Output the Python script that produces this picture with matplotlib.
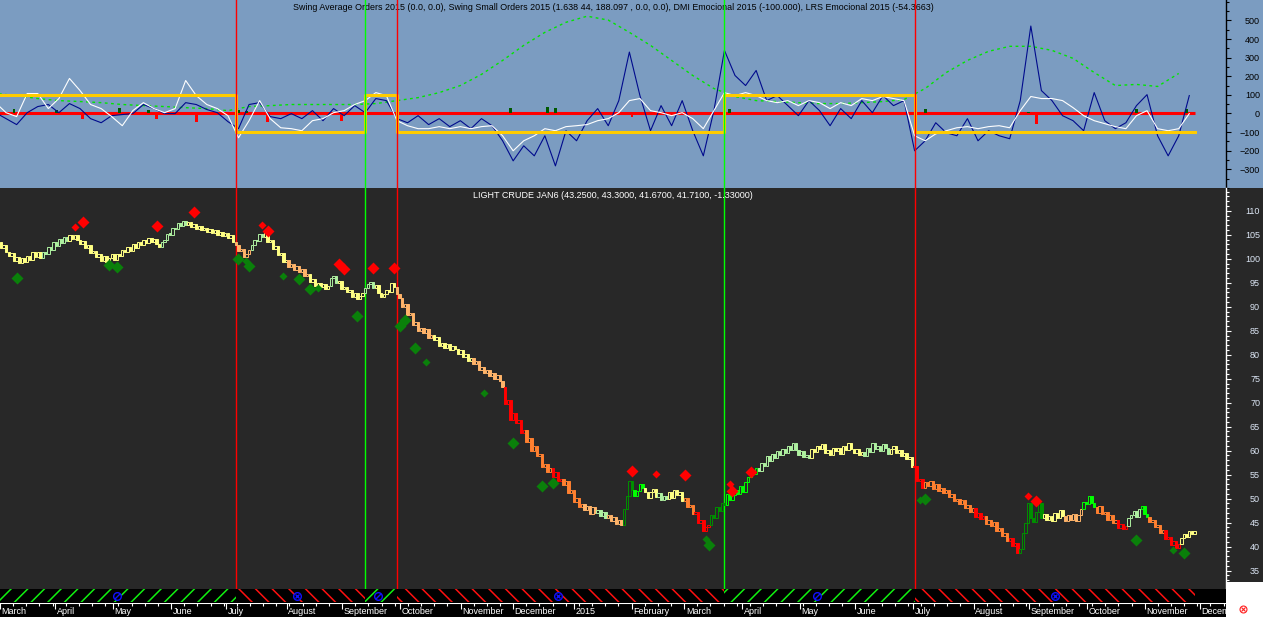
import numpy as np
import pandas as pd
import matplotlib
matplotlib.use("Agg")
import matplotlib.pyplot as plt
from matplotlib.patches import Rectangle
from matplotlib.lines import Line2D

plt.rcParams['font.family'] = ['Liberation Sans', 'DejaVu Sans']
plt.rcParams['hatch.linewidth'] = 1.1

# ---------------- data ----------------
start_date = "2014-03-03"

closes = [
    102.8, 103.4, 102.2, 102.9, 101.5, 100.6, 101.2, 99.6, 100.4, 99.2,
    100.1, 99.3, 100.5, 99.7, 101.3, 100.4, 101.4, 100.2, 101.5, 101.0,
    102.4, 101.8, 103.5, 102.7, 104.1, 103.3, 104.6, 103.8, 104.9, 104.1,
    105.0, 104.0, 103.1, 103.8, 102.2, 102.8, 101.1, 101.7, 100.4, 101.0,
    99.6, 100.5, 99.3, 100.2, 100.9, 99.8, 101.0, 100.6, 101.9, 101.3,
    102.4, 101.6, 103.0, 102.3, 103.5, 102.8, 103.9, 103.2, 104.4, 103.4,
    104.2, 103.0, 102.4, 103.5, 103.9, 105.2, 105.0, 106.5, 106.1, 107.4,
    106.8, 107.9, 107.0, 107.7, 106.6, 107.2, 106.3, 106.8, 105.9, 106.5,
    105.6, 106.2, 105.3, 105.9, 105.0, 105.6, 104.7, 105.3, 104.4, 104.9,
    103.5, 102.9, 101.6, 102.1, 100.4, 100.9, 101.8, 102.9, 103.9, 103.6,
    105.1, 104.6, 105.3, 103.4, 103.9, 102.1, 102.6, 100.8, 101.2, 99.4,
    99.8, 98.2, 98.8, 97.6, 98.5, 97.2, 97.8, 96.3, 96.8, 95.2,
    95.7, 94.3, 94.9, 94.1, 94.7, 93.6, 94.4, 95.9, 96.3, 95.0,
    95.3, 93.6, 94.2, 93.0, 93.5, 92.1, 92.9, 91.7, 92.2, 92.8,
    93.9, 94.8, 95.2, 94.0, 94.5, 92.8, 92.0, 92.6, 93.4, 93.0,
    94.9, 94.2, 92.6, 91.8, 89.9, 90.5, 88.2, 88.7, 86.1, 86.8,
    84.9, 85.6, 84.5, 85.3, 83.4, 84.1, 83.0, 83.6, 81.8, 82.5,
    81.4, 82.3, 80.9, 81.9, 81.1, 80.2, 80.9, 79.6, 80.1, 78.6,
    79.3, 78.0, 78.6, 76.8, 77.4, 76.2, 76.9, 75.5, 76.2, 75.0,
    75.8, 74.6, 73.2, 69.8, 70.6, 66.3, 67.9, 65.7, 66.4, 63.6,
    64.3, 61.8, 62.6, 60.0, 60.9, 58.8, 59.3, 56.5, 57.2, 55.6,
    56.4, 54.6, 55.5, 53.6, 54.2, 52.8, 53.6, 51.2, 51.9, 49.4,
    50.1, 48.2, 48.9, 47.6, 48.5, 46.9, 48.2, 47.0, 47.7, 46.4,
    47.3, 46.0, 46.6, 45.3, 46.1, 44.8, 45.6, 44.6, 47.9, 50.6,
    53.6, 51.9, 50.5, 51.7, 53.1, 52.2, 51.4, 50.2, 51.3, 52.0,
    50.4, 51.1, 49.7, 50.6, 49.9, 51.3, 50.2, 51.8, 50.7, 51.4,
    49.5, 50.1, 48.2, 48.7, 46.8, 47.3, 45.0, 45.6, 43.2, 44.0,
    44.6, 46.5, 45.9, 48.3, 47.4, 49.2, 48.6, 50.9, 49.7, 50.8,
    51.9, 50.9, 52.6, 51.4, 53.4, 54.6, 55.8, 55.1, 56.3, 55.7,
    57.5, 56.9, 58.8, 57.9, 59.3, 58.4, 59.9, 59.1, 60.4, 59.6,
    61.0, 60.2, 61.6, 60.1, 59.0, 60.0, 58.7, 59.2, 58.5, 60.4,
    59.7, 61.0, 60.3, 61.4, 59.6, 60.2, 59.2, 60.6, 59.9, 60.5,
    59.4, 60.9, 60.2, 61.6, 60.4, 59.5, 60.4, 59.1, 59.8, 58.9,
    60.5, 59.8, 61.5, 60.3, 60.9, 59.9, 61.3, 60.6, 59.4, 60.4,
    60.9, 59.6, 60.1, 58.8, 59.5, 58.3, 58.7, 56.5, 56.9, 53.6,
    54.1, 52.2, 53.4, 52.6, 53.6, 52.0, 53.0, 51.6, 52.2, 51.1,
    51.8, 50.4, 51.0, 49.5, 50.0, 48.8, 49.7, 48.0, 48.6, 47.3,
    48.0, 46.2, 47.1, 45.8, 46.4, 44.8, 45.6, 44.4, 45.1, 43.3,
    43.9, 42.2, 42.9, 41.2, 41.8, 40.2, 40.8, 38.7, 39.5, 42.8,
    44.9, 49.1, 46.0, 45.1, 47.3, 49.2, 46.0, 46.8, 45.5, 46.3,
    45.4, 47.0, 46.0, 47.6, 46.3, 45.4, 46.6, 45.5, 46.9, 45.3,
    46.5, 47.8, 49.3, 48.9, 50.6, 49.0, 48.2, 47.1, 48.4, 46.8,
    47.3, 45.6, 46.5, 44.9, 45.6, 43.9, 44.8, 43.6, 44.4, 45.9,
    46.7, 47.4, 46.2, 47.8, 48.4, 46.8, 46.1, 45.1, 45.6, 44.0,
    44.6, 42.9, 43.4, 41.6, 42.1, 40.4, 41.2, 39.8, 40.6, 41.9,
    42.6, 42.1, 43.3, 42.7, 43.2,
]

# candle colour class, run-length (code, number of bars)
color_runs = [
    ("Y", 18), ("P", 10), ("Y", 18), ("Y", 17), ("P", 10), ("Y", 18), ("L", 6), ("P", 5),
    ("Y", 9), ("L", 8), ("Y", 8), ("P", 3), ("Y", 10), ("P", 4), ("Y", 8), ("L", 9),
    ("L", 5), ("Y", 15), ("L", 12), ("R", 8), ("O", 10), ("R", 4), ("O", 8), ("L", 5),
    ("P", 4), ("L", 6), ("D", 4), ("G", 4), ("Y", 5), ("P", 4), ("Y", 6), ("O", 4),
    ("R", 6), ("D", 6), ("G", 6), ("G", 6), ("P", 10), ("P", 10), ("Y", 20), ("P", 10),
    ("Y", 9), ("R", 4), ("O", 9), ("O", 10), ("R", 4), ("O", 9), ("R", 4), ("D", 9),
    ("Y", 8), ("L", 7), ("G", 5), ("O", 8), ("R", 4), ("P", 5), ("G", 3), ("O", 6),
    ("R", 6), ("Y", 6),
]

# sell (red, above) and buy (green, below) diamonds: bar index, price, big(1)/small(0)
sell_idx = [30, 33, 61, 75, 101, 103, 130, 132, 143, 151, 241, 250, 261, 278, 279, 286, 391, 394]
sell_px = [106.6, 107.6, 106.8, 109.8, 107.0, 105.8, 99.0, 97.8, 98.0, 98.0, 55.8, 55.2, 55.0, 53.1, 51.6, 55.6, 50.6, 49.6]
sell_big = [0, 1, 1, 1, 0, 1, 1, 1, 1, 1, 1, 0, 1, 0, 1, 1, 0, 1]
buy_idx = [8, 43, 46, 92, 95, 96, 109, 115, 119, 122, 137, 153, 155, 159, 163, 185, 196, 207, 211,
           269, 270, 350, 352, 432, 446, 450]
buy_px = [96.0, 98.7, 98.2, 99.9, 99.5, 98.4, 96.4, 95.7, 93.6, 93.8, 88.0, 85.9, 87.2, 81.5, 78.4,
          72.0, 61.5, 52.7, 53.3, 41.6, 40.4, 49.8, 50.0, 41.4, 39.3, 38.7]
buy_big = [1, 1, 1, 1, 0, 1, 0, 1, 1, 0, 1, 1, 1, 1, 0, 0, 1, 1, 1, 0, 1, 0, 1, 1, 0, 1]

# swing signal segments (start bar, direction)
seg_start = [0, 91, 140, 152, 276, 348]
seg_dir = [1, -1, 1, -1, 1, -1]
last_bar = 454

# oscillators, sampled every 4 bars
osc_step = 4
blue_vals = [
    4, -28, -60, 4, 37, 48, 4, 53, 26, -28, -50, -12, -6, -1, 48, 26, -1, -1, 58, 48,
    21, 4, -44, -82, 48, 58, -17, -28, -1, -28,
    15, -39, 26, -12, 42, 4, 80, 69, -28, -50, -12, -60, -28, -71, -39, -82, -28, -66, -147, -255,
    -174, -228, -120, -282, -93, -147, -39, 26, -66, 69,
    330, 96, -93, 42, -66, 69, -93, -228, 15, 339, 204, 150, 231, 69, 96, 42, -12, 69, 15, -66,
    26, -28, 69, 4, 96, 42, 69, -201, -147, -50,
    -104, -120, -28, -147, -93, -120, -136, 69, 470, 123, 69, -12, -39, -93, 112, -39, -82, -50, 42, 101,
    -120, -228, -120, 96,
]
white_vals = [
    58, 4, -17, 107, 107, 26, 80, 188, 123, 48, 26, -17, -66, 15, 58, 26, 4, 26, 177, 96,
    48, 26, -12, -131, -39, 69, -28, -77, -82, -93,
    -39, -28, 4, 15, 48, 69, 112, 96, -39, -66, -82, -82, -71, -82, -71, -82, -71, -66, -120, -201,
    -147, -120, -82, -93, -71, -66, -60, -39, -28, 4,
    69, 80, 15, 4, -12, 4, -28, -82, 15, 112, 96, 112, 96, 69, 58, 69, 42, 69, 58, 26,
    58, 42, 80, 69, 91, 80, 69, -120, -147, -110,
    -93, -77, -71, -82, -71, -66, -77, 15, 91, 80, 80, 69, 31, -12, -39, -55, -71, -82, -12, 15,
    -82, -93, -82, -1,
]
# LRS line sampled every 8 bars
lrs_step = 8
lrs_vals = [
    107, 96, 80, 69, 64, 58, 48, 42, 37, 31, 26, 15, 37, 42, 48, 48, 48, 48, 53, 69,
    85, 112, 150, 210, 285, 366, 436, 490, 523, 502, 436, 366, 285, 204, 134, 91, 69, 64, 58, 53,
    53, 58, 64, 75, 134, 220, 285, 334, 361, 361, 339, 296, 220, 150, 156, 145, 215,
]
# small histogram bars on the zero line
hist_idx = [7, 23, 33, 47, 58, 61, 76, 92, 95, 103, 131, 140, 195, 209, 212, 241, 278, 352, 391, 394, 432, 451]
hist_val = [25, 20, -30, 30, 20, -30, -45, 20, 15, -45, -40, 40, 30, 35, 30, -20, 25, 25, 10, -55, 25, 25]

# blue circle marks in the signal band
band_mark_idx = [46, 114, 145, 213, 311, 401]

month_labels = ["March", "April", "May", "June", "July", "August", "September", "October",
                "November", "December", "2015", "February", "March", "April", "May", "June",
                "July", "August", "September", "October", "November", "December"]

top_title = ("Swing Average Orders 2015 (0.0, 0.0), Swing Small Orders 2015 (1.638 44, 188.097 , 0.0, 0.0), "
             "DMI Emocional 2015 (-100.000), LRS Emocional 2015 (-54.3663)")
price_title = "LIGHT CRUDE JAN6 (43.2500, 43.3000, 41.6700, 41.7100, -1.33000)"

# ---------------- styling ----------------
W, H = 1263, 617
TOP_BG = "#7b9cc1"
PR_BG = "#282828"
cmap = {"R": "#ff0000", "O": "#ff8030", "L": "#ffb46a", "Y": "#ffff84",
        "P": "#aef0a0", "G": "#00ff00", "D": "#009000"}
AX_R = 1226
XL = (1.704, 465.9)

fig = plt.figure(figsize=(W / 100, H / 100), dpi=100)
fig.patch.set_facecolor("white")


def fr(x0, y0, x1, y1):
    return [x0 / W, 1 - y1 / H, (x1 - x0) / W, (y1 - y0) / H]


# right column backgrounds (drawn beneath the axes)
for (y0, y1, c) in [(0, 188, TOP_BG), (188, 582, PR_BG)]:
    fig.patches.append(Rectangle((AX_R / W, 1 - y1 / H), (W - AX_R) / W, (y1 - y0) / H,
                                 transform=fig.transFigure, facecolor=c, edgecolor="none", zorder=-5))

ax_top = fig.add_axes(fr(0, 0, AX_R, 188))
ax_pr = fig.add_axes(fr(0, 188, AX_R, 589))
ax_band = fig.add_axes(fr(0, 589, AX_R, 603))
ax_date = fig.add_axes(fr(0, 603, AX_R, 617))

for ax in (ax_top, ax_pr, ax_band, ax_date):
    ax.set_xlim(*XL)
    for s in ax.spines.values():
        s.set_visible(False)
    ax.set_xticks([])

n = len(closes)
idx = np.arange(n)
codes = "".join(c * k for c, k in color_runs)
cols = [cmap[c] for c in codes]

# ---------------- top panel ----------------
ax_top.set_facecolor(TOP_BG)
ax_top.set_ylim(-401, 610)
bo = np.arange(len(blue_vals)) * osc_step
wo = np.arange(len(white_vals)) * osc_step
lo = np.arange(len(lrs_vals)) * lrs_step
ax_top.plot(lo, lrs_vals, color="#00e600", lw=1.0, dashes=(2, 2.5), zorder=2)
ax_top.plot([0, last_bar], [0, 0], color="#ff0000", lw=2.2, zorder=3, solid_capstyle="butt")
ax_top.bar(hist_idx, hist_val, width=1.1, color=["#005a00" if v > 0 else "#ff0000" for v in hist_val], zorder=4)
ax_top.plot(bo, blue_vals, color="#000a8c", lw=0.8, zorder=5)
ax_top.plot(wo, white_vals, color="white", lw=0.8, zorder=6)
sx = seg_start + [last_bar]
sy = [100 * d for d in seg_dir] + [100 * seg_dir[-1]]
ax_top.plot(sx, sy, drawstyle="steps-post", color="#ffcc00", lw=2.2, zorder=7)

ax_top.yaxis.tick_right()
ax_top.set_yticks(np.arange(-300, 501, 100))
ax_top.set_yticks(np.arange(-400, 601, 50), minor=True)
ax_top.spines["right"].set_visible(True)
ax_top.spines["right"].set_color("black")
ax_top.spines["right"].set_linewidth(1)
ax_top.tick_params(axis="y", which="major", length=3.8, width=0.8, colors="black", labelsize=6.5, pad=20.7)
ax_top.tick_params(axis="y", which="minor", length=2.2, width=0.8, colors="black")
for lab in ax_top.get_yticklabels():
    lab.set_horizontalalignment("right")
ax_top.text(0.5, 1 - 7 / 188, top_title, transform=ax_top.transAxes, ha="center", va="center",
            fontsize=6.4, color="black")

# ---------------- price panel ----------------
ax_pr.set_facecolor(PR_BG)
ax_pr.set_ylim(31.18, 114.74)
opens = [closes[0]] + closes[:-1]
o = np.array(opens)
c = np.array(closes)
bottom = np.minimum(o, c)
height = np.maximum(np.abs(c - o), 0.3)
face = [col if cc <= oo else PR_BG for col, cc, oo in zip(cols, c, o)]
ax_pr.bar(idx, height, bottom=bottom, width=0.9, color=face, edgecolor=cols, linewidth=0.7, zorder=3)
for xi, yi, b in zip(sell_idx, sell_px, sell_big):
    ax_pr.plot(xi, yi, marker="D", ms=6.5 if b else 4, color="#ff0000", mec="none", zorder=4)
for xi, yi, b in zip(buy_idx, buy_px, buy_big):
    ax_pr.plot(xi, yi, marker="D", ms=6.5 if b else 4, color="#0a800a", mec="none", zorder=4)

ax_pr.yaxis.tick_right()
ax_pr.set_yticks(np.arange(35, 111, 5))
ax_pr.set_yticks(np.arange(32, 115, 1), minor=True)
ax_pr.spines["right"].set_visible(True)
ax_pr.spines["right"].set_color("white")
ax_pr.spines["right"].set_linewidth(1)
ax_pr.tick_params(axis="y", which="major", length=3.8, width=0.8, colors="white", labelsize=6.5, pad=20.7,
                  labelcolor="#dce6f5")
ax_pr.tick_params(axis="y", which="minor", length=2.2, width=0.8, colors="white")
for lab in ax_pr.get_yticklabels():
    lab.set_horizontalalignment("right")
ax_pr.text(0.5, 1 - 7 / 401, price_title, transform=ax_pr.transAxes, ha="center", va="center",
           fontsize=6.5, color="white")

# signal vertical lines
for s, d in zip(seg_start[1:], seg_dir[1:]):
    colr = "#00ff00" if d > 0 else "#ff0000"
    ax_top.axvline(s, color=colr, lw=1, zorder=8)
    ax_pr.axvline(s, color=colr, lw=1, zorder=2)

# ---------------- signal band ----------------
ax_band.set_facecolor("black")
ax_band.set_ylim(0, 1)
ax_band.set_yticks([])
for k, (s, d) in enumerate(zip(seg_start, seg_dir)):
    e = sx[k + 1]
    ax_band.add_patch(Rectangle((s, 0.05), e - s, 0.95, facecolor="black",
                                edgecolor="#10f010" if d > 0 else "#ff1010",
                                hatch="//" if d > 0 else "\\\\", lw=0))
for m in band_mark_idx:
    d = seg_dir[max(k for k in range(len(seg_start)) if seg_start[k] <= m)]
    ax_band.plot(m, 0.5, marker="o", ms=5.5, mfc="black", mec="#1010ff", mew=1.0, zorder=5)
    if d > 0:
        ax_band.plot(m, 0.5, marker=[(-1, -1), (1, 1)], ms=4, color="#1010ff", mew=1.0, zorder=6)
    else:
        ax_band.plot(m, 0.5, marker="x", ms=3.5, color="#1010ff", mew=1.0, zorder=6)

# ---------------- date axis ----------------
ax_date.set_facecolor("black")
ax_date.set_ylim(0, 1)
ax_date.set_yticks([])
dates = pd.bdate_range(start_date, periods=470)
month_start = [i for i in range(len(dates)) if i == 0 or dates[i].month != dates[i - 1].month]
week_start = [i for i in range(len(dates)) if dates[i].weekday() == 0]
ax_date.axhline(1, color="white", lw=1.5)
ax_date.xaxis.tick_top()
ax_date.set_xticks(month_start[:len(month_labels)])
ax_date.set_xticks(week_start, minor=True)
ax_date.tick_params(axis="x", which="major", direction="in", length=4.5, width=0.8, colors="white",
                    labeltop=False, labelbottom=False)
ax_date.tick_params(axis="x", which="minor", direction="in", length=2.5, width=0.8, colors="white",
                    labeltop=False, labelbottom=False)
for ms_, lab in zip(month_start, month_labels):
    ax_date.text(ms_ + 0.6, 0.38, lab, ha="left", va="center", fontsize=6.5, color="white", clip_on=True)

# small red circled cross in the corner
fig.add_artist(Line2D([1243 / W], [1 - 609 / H], marker="o", ms=5, mfc="none", mec="#ff2020", mew=0.8,
                      transform=fig.transFigure))
fig.add_artist(Line2D([1243 / W], [1 - 609 / H], marker="x", ms=3, color="#ff2020", mew=0.8,
                      transform=fig.transFigure))

fig.savefig("out.png", dpi=100, facecolor=fig.get_facecolor())
